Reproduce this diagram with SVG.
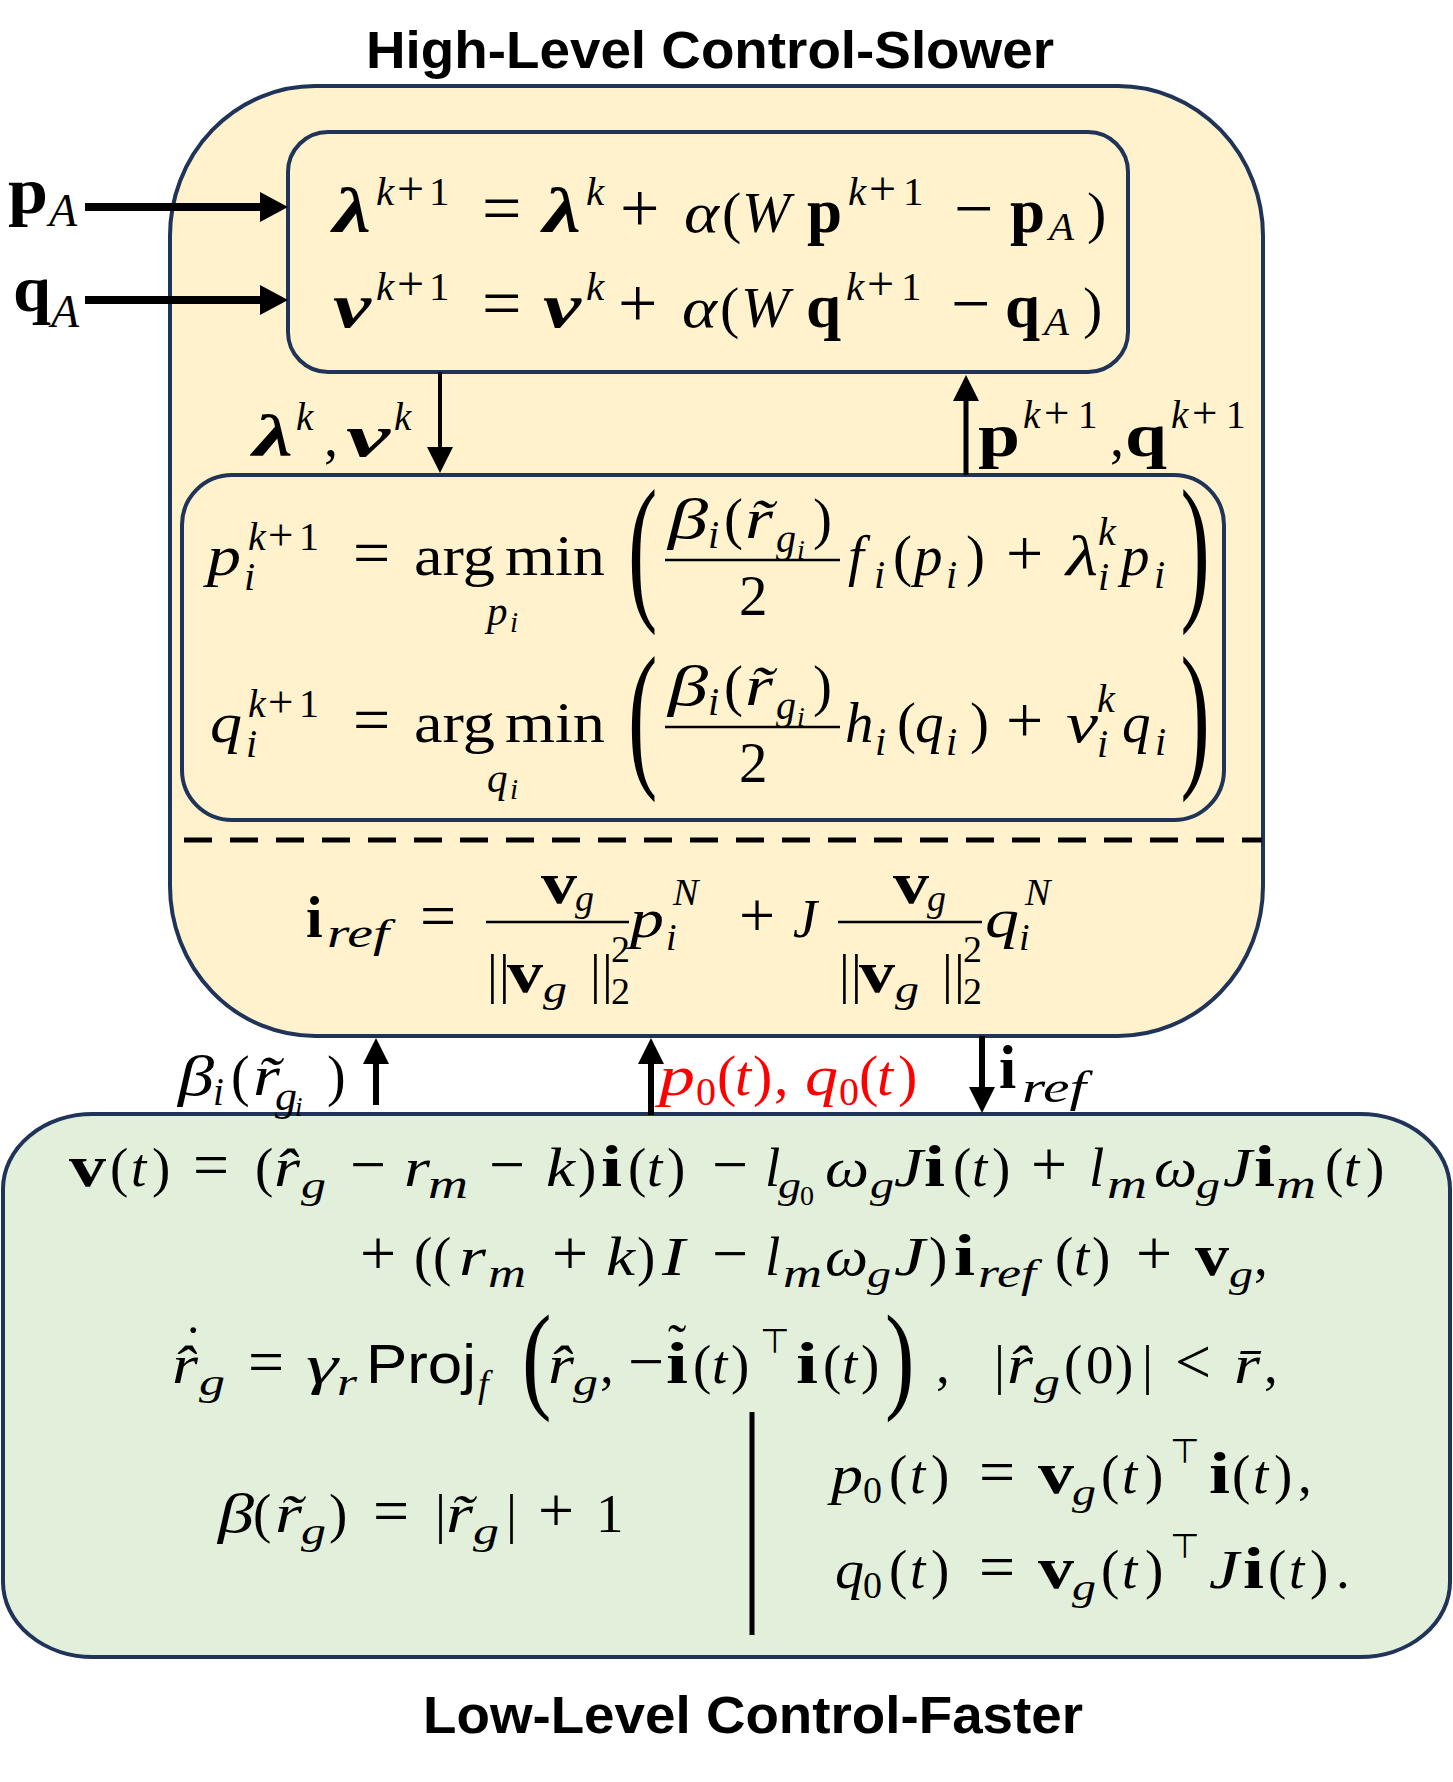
<svg xmlns="http://www.w3.org/2000/svg" width="1453" height="1782" viewBox="0 0 1453 1782">
<defs>
<style>
.m{font-family:"Liberation Serif","DejaVu Serif",serif;fill:#000}
.i{font-style:italic}
.b{font-weight:bold}
.bi{font-weight:bold;font-style:italic}
.sf{font-family:"Liberation Sans","DejaVu Sans",sans-serif}
.T{font-family:"DejaVu Sans",sans-serif;font-weight:normal;font-style:normal}
.title{font-family:"Liberation Sans",Arial,sans-serif;font-weight:bold;font-size:51px;fill:#000}
.box{stroke:#1F3458;stroke-width:4}
.yel{fill:#FFF2CC}
.grn{fill:#E2EFDA}
.bar{stroke:#000;stroke-width:2.5}
.red{fill:#FF0000}
</style>
<marker id="ah" markerUnits="userSpaceOnUse" markerWidth="26" markerHeight="26" viewBox="0 0 26 26" refX="6" refY="13" orient="auto"><path d="M0,0 L26,13 L0,26 z" fill="#000"/></marker>
<marker id="ahb" markerUnits="userSpaceOnUse" markerWidth="28" markerHeight="30" viewBox="0 0 28 30" refX="8" refY="15" orient="auto"><path d="M0,0 L28,15 L0,30 z" fill="#000"/></marker>
</defs>
<rect width="1453" height="1782" fill="#fff"/>

<g id="high-level">
<text class="title" x="710" y="68" text-anchor="middle" textLength="688" lengthAdjust="spacingAndGlyphs">High-Level Control-Slower</text>
<rect class="box yel" x="170" y="86" width="1093" height="950" rx="145" ry="150"/>
<line x1="184" y1="840" x2="1262" y2="840" stroke="#000" stroke-width="5" stroke-dasharray="28 18"/>
</g>

<g id="multiplier-update">
<rect class="box yel" x="288" y="132" width="840" height="240" rx="40"/>
<text class="m" font-size="58">
<tspan class="bi" x="333" y="232" font-size="63" textLength="38" lengthAdjust="spacingAndGlyphs">λ</tspan>
<tspan class="i" x="376" y="205" font-size="41">k</tspan><tspan x="397" y="205" font-size="48">+</tspan><tspan x="429" y="205" font-size="41">1</tspan>
<tspan x="482" y="232" font-size="70">=</tspan>
<tspan class="bi" x="543" y="232" font-size="63" textLength="38" lengthAdjust="spacingAndGlyphs">λ</tspan>
<tspan class="i" x="586" y="205" font-size="41">k</tspan>
<tspan x="620" y="232" font-size="70">+</tspan>
<tspan class="i" x="684" y="232" textLength="35" lengthAdjust="spacingAndGlyphs">α</tspan>
<tspan x="722" y="232">(</tspan>
<tspan class="i" x="742" y="232">W</tspan>
<tspan class="b" x="807" y="232" font-size="63">p</tspan>
<tspan class="i" x="848" y="205" font-size="41">k</tspan><tspan x="869" y="205" font-size="48">+</tspan><tspan x="903" y="205" font-size="41">1</tspan>
<tspan x="954" y="232" font-size="70">−</tspan>
<tspan class="b" x="1010" y="232" font-size="63">p</tspan>
<tspan class="i" x="1049" y="240" font-size="41">A</tspan>
<tspan x="1087" y="232">)</tspan>
</text>
<text class="m" font-size="58">
<tspan class="bi" x="333" y="327" font-size="63" textLength="38" lengthAdjust="spacingAndGlyphs">ν</tspan>
<tspan class="i" x="376" y="300" font-size="41">k</tspan><tspan x="397" y="300" font-size="48">+</tspan><tspan x="429" y="300" font-size="41">1</tspan>
<tspan x="482" y="327" font-size="70">=</tspan>
<tspan class="bi" x="543" y="327" font-size="63" textLength="38" lengthAdjust="spacingAndGlyphs">ν</tspan>
<tspan class="i" x="586" y="300" font-size="41">k</tspan>
<tspan x="618" y="327" font-size="70">+</tspan>
<tspan class="i" x="682" y="327" textLength="35" lengthAdjust="spacingAndGlyphs">α</tspan>
<tspan x="720" y="327">(</tspan>
<tspan class="i" x="741" y="327">W</tspan>
<tspan class="b" x="806" y="327" font-size="63">q</tspan>
<tspan class="i" x="846" y="300" font-size="41">k</tspan><tspan x="867" y="300" font-size="48">+</tspan><tspan x="901" y="300" font-size="41">1</tspan>
<tspan x="951" y="327" font-size="70">−</tspan>
<tspan class="b" x="1005" y="327" font-size="63">q</tspan>
<tspan class="i" x="1044" y="335" font-size="41">A</tspan>
<tspan x="1083" y="327">)</tspan>
</text>
</g>

<g id="local-optimization">
<rect class="box yel" x="182" y="475" width="1042" height="345" rx="50"/>
<text class="m" font-size="57">
<tspan class="i" x="207" y="575" textLength="34" lengthAdjust="spacingAndGlyphs">p</tspan>
<tspan class="i" x="248" y="550" font-size="40">k</tspan><tspan x="268" y="550" font-size="45">+</tspan><tspan x="299" y="550" font-size="40">1</tspan>
<tspan class="i" x="244" y="590" font-size="40">i</tspan>
<tspan x="353" y="575" font-size="66">=</tspan>
<tspan class="i" x="487" y="625" font-size="41">p</tspan><tspan class="i" x="510" y="632" font-size="29">i</tspan>
<tspan class="i" x="668" y="538" textLength="40" lengthAdjust="spacingAndGlyphs">β</tspan><tspan class="i" x="708" y="548" font-size="40">i</tspan>
<tspan x="724" y="538">(</tspan><tspan class="i" x="745" y="538" textLength="28" lengthAdjust="spacingAndGlyphs">r̃</tspan>
<tspan class="i" x="776" y="552" font-size="40">g</tspan><tspan class="i" x="797" y="559" font-size="28">i</tspan>
<tspan x="813" y="538">)</tspan>
<tspan x="739" y="615">2</tspan>
<tspan class="i" x="848" y="575">f</tspan><tspan class="i" x="874" y="588" font-size="40">i</tspan>
<tspan x="893" y="575">(</tspan><tspan class="i" x="914" y="575">p</tspan><tspan class="i" x="946" y="588" font-size="40">i</tspan><tspan x="966" y="575">)</tspan>
<tspan x="1006" y="575" font-size="66">+</tspan>
<tspan class="i" x="1066" y="575" textLength="32" lengthAdjust="spacingAndGlyphs">λ</tspan><tspan class="i" x="1098" y="545" font-size="40">k</tspan><tspan class="i" x="1098" y="590" font-size="40">i</tspan>
<tspan class="i" x="1121" y="575">p</tspan><tspan class="i" x="1154" y="588" font-size="40">i</tspan>
</text>
<text class="m" font-size="57" x="414" y="575" textLength="81" lengthAdjust="spacingAndGlyphs">arg</text>
<text class="m" font-size="57" x="505" y="575" textLength="100" lengthAdjust="spacingAndGlyphs">min</text>
<text class="m" font-size="160" transform="translate(628,601) scale(0.55,1)">(</text>
<text class="m" font-size="160" transform="translate(1180.5,601) scale(0.55,1)">)</text>
<line class="bar" x1="665" y1="560" x2="840" y2="560"/>

<text class="m" font-size="57">
<tspan class="i" x="210" y="742" textLength="32" lengthAdjust="spacingAndGlyphs">q</tspan>
<tspan class="i" x="248" y="717" font-size="40">k</tspan><tspan x="268" y="717" font-size="45">+</tspan><tspan x="299" y="717" font-size="40">1</tspan>
<tspan class="i" x="246" y="757" font-size="40">i</tspan>
<tspan x="353" y="742" font-size="66">=</tspan>
<tspan class="i" x="487" y="792" font-size="41">q</tspan><tspan class="i" x="510" y="799" font-size="29">i</tspan>
<tspan class="i" x="668" y="705" textLength="40" lengthAdjust="spacingAndGlyphs">β</tspan><tspan class="i" x="708" y="715" font-size="40">i</tspan>
<tspan x="724" y="705">(</tspan><tspan class="i" x="745" y="705" textLength="28" lengthAdjust="spacingAndGlyphs">r̃</tspan>
<tspan class="i" x="776" y="719" font-size="40">g</tspan><tspan class="i" x="797" y="726" font-size="28">i</tspan>
<tspan x="813" y="705">)</tspan>
<tspan x="739" y="782">2</tspan>
<tspan class="i" x="845" y="742">h</tspan><tspan class="i" x="875" y="755" font-size="40">i</tspan>
<tspan x="897" y="742">(</tspan><tspan class="i" x="915" y="742">q</tspan><tspan class="i" x="946" y="755" font-size="40">i</tspan><tspan x="970" y="742">)</tspan>
<tspan x="1006" y="742" font-size="66">+</tspan>
<tspan class="i" x="1066" y="742" textLength="32" lengthAdjust="spacingAndGlyphs">ν</tspan><tspan class="i" x="1097" y="712" font-size="40">k</tspan><tspan class="i" x="1097" y="757" font-size="40">i</tspan>
<tspan class="i" x="1122" y="742">q</tspan><tspan class="i" x="1155" y="755" font-size="40">i</tspan>
</text>
<text class="m" font-size="57" x="414" y="742" textLength="81" lengthAdjust="spacingAndGlyphs">arg</text>
<text class="m" font-size="57" x="505" y="742" textLength="100" lengthAdjust="spacingAndGlyphs">min</text>
<text class="m" font-size="160" transform="translate(628,768) scale(0.55,1)">(</text>
<text class="m" font-size="160" transform="translate(1180.5,768) scale(0.55,1)">)</text>
<line class="bar" x1="665" y1="727" x2="840" y2="727"/>
</g>

<g id="current-reference">
<text class="m" font-size="54">
<tspan class="b" x="306" y="937" font-size="60">i</tspan><tspan class="i" x="327" y="947" font-size="39" textLength="62" lengthAdjust="spacingAndGlyphs">ref</tspan>
<tspan x="420" y="937" font-size="64">=</tspan>
<tspan class="b" x="541" y="903" font-size="60" textLength="36" lengthAdjust="spacingAndGlyphs">v</tspan><tspan class="i" x="575" y="911" font-size="38">g</tspan>
<tspan x="487" y="992">|</tspan><tspan x="499" y="992">|</tspan>
<tspan class="b" x="507" y="992" font-size="60" textLength="36" lengthAdjust="spacingAndGlyphs">v</tspan><tspan class="i" x="543" y="1002" font-size="38" textLength="24" lengthAdjust="spacingAndGlyphs">g</tspan>
<tspan x="590" y="992">|</tspan><tspan x="602" y="992">|</tspan>
<tspan x="611" y="962" font-size="38">2</tspan><tspan x="611" y="1004" font-size="38">2</tspan>
<tspan class="i" x="630" y="937" textLength="34" lengthAdjust="spacingAndGlyphs">p</tspan><tspan class="i" x="673" y="905" font-size="38">N</tspan><tspan class="i" x="666" y="950" font-size="38">i</tspan>
<tspan x="739" y="937" font-size="64">+</tspan>
<tspan class="i" x="793" y="937">J</tspan>
<tspan class="b" x="893" y="903" font-size="60" textLength="36" lengthAdjust="spacingAndGlyphs">v</tspan><tspan class="i" x="927" y="911" font-size="38">g</tspan>
<tspan x="839" y="992">|</tspan><tspan x="851" y="992">|</tspan>
<tspan class="b" x="859" y="992" font-size="60" textLength="36" lengthAdjust="spacingAndGlyphs">v</tspan><tspan class="i" x="895" y="1002" font-size="38" textLength="24" lengthAdjust="spacingAndGlyphs">g</tspan>
<tspan x="942" y="992">|</tspan><tspan x="954" y="992">|</tspan>
<tspan x="963" y="962" font-size="38">2</tspan><tspan x="963" y="1004" font-size="38">2</tspan>
<tspan class="i" x="985" y="937" textLength="34" lengthAdjust="spacingAndGlyphs">q</tspan><tspan class="i" x="1025" y="905" font-size="38">N</tspan><tspan class="i" x="1019" y="950" font-size="38">i</tspan>
</text>
<line class="bar" x1="486" y1="922" x2="629" y2="922"/>
<line class="bar" x1="838" y1="922" x2="982" y2="922"/>
</g>

<g id="low-level">
<rect class="box grn" x="3" y="1114" width="1447" height="543" rx="90" ry="75"/>
<text class="m" font-size="55">
<tspan class="b" x="69" y="1186" font-size="60" textLength="37" lengthAdjust="spacingAndGlyphs">v</tspan><tspan x="110" y="1186">(</tspan><tspan class="i" x="131" y="1186">t</tspan><tspan x="152" y="1186">)</tspan>
<tspan x="193" y="1186" font-size="64">=</tspan>
<tspan x="255" y="1186">(</tspan><tspan class="i" x="274" y="1186" textLength="26" lengthAdjust="spacingAndGlyphs">r̂</tspan><tspan class="i" x="301" y="1198" font-size="38" textLength="25" lengthAdjust="spacingAndGlyphs">g</tspan>
<tspan x="350" y="1186" font-size="64">−</tspan>
<tspan class="i" x="404" y="1186" textLength="26" lengthAdjust="spacingAndGlyphs">r</tspan><tspan class="i" x="428" y="1198" font-size="40" textLength="40" lengthAdjust="spacingAndGlyphs">m</tspan>
<tspan x="489" y="1186" font-size="64">−</tspan>
<tspan class="i" x="546" y="1186" textLength="29" lengthAdjust="spacingAndGlyphs">k</tspan><tspan x="578" y="1186">)</tspan>
<tspan class="b" x="601" y="1186" font-size="60" textLength="21" lengthAdjust="spacingAndGlyphs">i</tspan><tspan x="628" y="1186">(</tspan><tspan class="i" x="647" y="1186">t</tspan><tspan x="667" y="1186">)</tspan>
<tspan x="712" y="1186" font-size="64">−</tspan>
<tspan class="i" x="765" y="1186">l</tspan><tspan class="i" x="778" y="1198" font-size="38" textLength="23" lengthAdjust="spacingAndGlyphs">g</tspan><tspan x="800" y="1205" font-size="28">0</tspan>
<tspan class="i" x="825" y="1186" textLength="44" lengthAdjust="spacingAndGlyphs">ω</tspan><tspan class="i" x="870" y="1198" font-size="38" textLength="24" lengthAdjust="spacingAndGlyphs">g</tspan>
<tspan class="i" x="894" y="1186" textLength="29" lengthAdjust="spacingAndGlyphs">J</tspan><tspan class="b" x="924" y="1186" font-size="60" textLength="21" lengthAdjust="spacingAndGlyphs">i</tspan><tspan x="953" y="1186">(</tspan><tspan class="i" x="972" y="1186">t</tspan><tspan x="992" y="1186">)</tspan>
<tspan x="1031" y="1186" font-size="64">+</tspan>
<tspan class="i" x="1089" y="1186">l</tspan><tspan class="i" x="1107" y="1198" font-size="40" textLength="40" lengthAdjust="spacingAndGlyphs">m</tspan>
<tspan class="i" x="1154" y="1186" textLength="43" lengthAdjust="spacingAndGlyphs">ω</tspan><tspan class="i" x="1196" y="1198" font-size="38" textLength="24" lengthAdjust="spacingAndGlyphs">g</tspan>
<tspan class="i" x="1223" y="1186" textLength="29" lengthAdjust="spacingAndGlyphs">J</tspan><tspan class="b" x="1254" y="1186" font-size="60" textLength="21" lengthAdjust="spacingAndGlyphs">i</tspan><tspan class="i" x="1276" y="1198" font-size="40" textLength="40" lengthAdjust="spacingAndGlyphs">m</tspan>
<tspan x="1325" y="1186">(</tspan><tspan class="i" x="1344" y="1186">t</tspan><tspan x="1366" y="1186">)</tspan>
</text>
<text class="m" font-size="55">
<tspan x="360" y="1275" font-size="64">+</tspan>
<tspan x="414" y="1275">(</tspan><tspan x="433" y="1275">(</tspan>
<tspan class="i" x="459" y="1275" textLength="27" lengthAdjust="spacingAndGlyphs">r</tspan><tspan class="i" x="488" y="1287" font-size="40" textLength="38" lengthAdjust="spacingAndGlyphs">m</tspan>
<tspan x="552" y="1275" font-size="64">+</tspan>
<tspan class="i" x="606" y="1275" textLength="29" lengthAdjust="spacingAndGlyphs">k</tspan><tspan x="637" y="1275">)</tspan>
<tspan class="i" x="662" y="1275" textLength="23" lengthAdjust="spacingAndGlyphs">I</tspan>
<tspan x="712" y="1275" font-size="64">−</tspan>
<tspan class="i" x="765" y="1275">l</tspan><tspan class="i" x="783" y="1287" font-size="40" textLength="39" lengthAdjust="spacingAndGlyphs">m</tspan>
<tspan class="i" x="825" y="1275" textLength="43" lengthAdjust="spacingAndGlyphs">ω</tspan><tspan class="i" x="867" y="1287" font-size="38" textLength="24" lengthAdjust="spacingAndGlyphs">g</tspan>
<tspan class="i" x="894" y="1275" textLength="31" lengthAdjust="spacingAndGlyphs">J</tspan><tspan x="929" y="1275">)</tspan>
<tspan class="b" x="954" y="1275" font-size="60" textLength="21" lengthAdjust="spacingAndGlyphs">i</tspan><tspan class="i" x="978" y="1287" font-size="39" textLength="58" lengthAdjust="spacingAndGlyphs">ref</tspan>
<tspan x="1055" y="1275">(</tspan><tspan class="i" x="1074" y="1275">t</tspan><tspan x="1092" y="1275">)</tspan>
<tspan x="1136" y="1275" font-size="64">+</tspan>
<tspan class="b" x="1195" y="1275" font-size="60" textLength="34" lengthAdjust="spacingAndGlyphs">v</tspan><tspan class="i" x="1229" y="1287" font-size="38" textLength="24" lengthAdjust="spacingAndGlyphs">g</tspan><tspan x="1254" y="1275">,</tspan>
</text>
<text class="m" font-size="55">
<tspan class="i" x="172" y="1383" textLength="26" lengthAdjust="spacingAndGlyphs">r̂</tspan><tspan x="184" y="1364">˙</tspan><tspan class="i" x="199" y="1395" font-size="38" textLength="26" lengthAdjust="spacingAndGlyphs">g</tspan>
<tspan x="248" y="1383" font-size="64">=</tspan>
<tspan class="i" x="306" y="1383" textLength="32" lengthAdjust="spacingAndGlyphs">γ</tspan><tspan class="i" x="337" y="1395" font-size="38" textLength="20" lengthAdjust="spacingAndGlyphs">r</tspan>
<tspan class="i" x="478" y="1397" font-size="38">f</tspan>
<tspan class="i" x="548" y="1383" textLength="26" lengthAdjust="spacingAndGlyphs">r̂</tspan><tspan class="i" x="573" y="1395" font-size="38" textLength="25" lengthAdjust="spacingAndGlyphs">g</tspan><tspan x="600" y="1383">,</tspan>
<tspan x="628" y="1383" font-size="64">−</tspan>
<tspan class="b" x="666" y="1383" font-size="60" textLength="22" lengthAdjust="spacingAndGlyphs">i</tspan><tspan x="668" y="1362">˜</tspan>
<tspan x="693" y="1383">(</tspan><tspan class="i" x="712" y="1383">t</tspan><tspan x="731" y="1383">)</tspan>
<tspan class="T" x="760" y="1353" font-size="34">⊤</tspan>
<tspan class="b" x="796" y="1383" font-size="60" textLength="22" lengthAdjust="spacingAndGlyphs">i</tspan><tspan x="823" y="1383">(</tspan><tspan class="i" x="842" y="1383">t</tspan><tspan x="861" y="1383">)</tspan>
<tspan x="936" y="1383">,</tspan>
<tspan x="994" y="1383">|</tspan>
<tspan class="i" x="1007" y="1383" textLength="26" lengthAdjust="spacingAndGlyphs">r̂</tspan><tspan class="i" x="1034" y="1395" font-size="38" textLength="26" lengthAdjust="spacingAndGlyphs">g</tspan>
<tspan x="1064" y="1383">(</tspan><tspan x="1086" y="1383">0</tspan><tspan x="1115" y="1383">)</tspan>
<tspan x="1142" y="1383">|</tspan>
<tspan x="1175" y="1383" font-size="64">&lt;</tspan>
<tspan class="i" x="1234" y="1383" textLength="26" lengthAdjust="spacingAndGlyphs">r̄</tspan><tspan x="1264" y="1383">,</tspan>
</text>
<text class="m sf" font-size="56" x="366" y="1383" textLength="110" lengthAdjust="spacingAndGlyphs">Proj</text>
<text class="m" font-size="118" transform="translate(522,1397) scale(0.75,1)">(</text>
<text class="m" font-size="118" transform="translate(885,1397) scale(0.75,1)">)</text>

<line x1="752" y1="1412" x2="752" y2="1635" stroke="#000" stroke-width="5"/>

<text class="m" font-size="55">
<tspan class="i" x="218" y="1532" textLength="36" lengthAdjust="spacingAndGlyphs">β</tspan><tspan x="253" y="1532">(</tspan><tspan class="i" x="275" y="1532" textLength="27" lengthAdjust="spacingAndGlyphs">r̃</tspan><tspan class="i" x="301" y="1544" font-size="38" textLength="25" lengthAdjust="spacingAndGlyphs">g</tspan><tspan x="329" y="1532">)</tspan>
<tspan x="373" y="1532" font-size="64">=</tspan>
<tspan x="435" y="1532">|</tspan><tspan class="i" x="446" y="1532" textLength="27" lengthAdjust="spacingAndGlyphs">r̃</tspan><tspan class="i" x="473" y="1544" font-size="38" textLength="26" lengthAdjust="spacingAndGlyphs">g</tspan><tspan x="506" y="1532">|</tspan>
<tspan x="538" y="1532" font-size="64">+</tspan>
<tspan x="596" y="1532">1</tspan>
</text>
<text class="m" font-size="55">
<tspan class="i" x="831" y="1493" textLength="32" lengthAdjust="spacingAndGlyphs">p</tspan><tspan x="863" y="1503" font-size="38">0</tspan>
<tspan x="889" y="1493">(</tspan><tspan class="i" x="910" y="1493">t</tspan><tspan x="931" y="1493">)</tspan>
<tspan x="979" y="1493" font-size="64">=</tspan>
<tspan class="b" x="1038" y="1493" font-size="60" textLength="36" lengthAdjust="spacingAndGlyphs">v</tspan><tspan class="i" x="1072" y="1505" font-size="38" textLength="24" lengthAdjust="spacingAndGlyphs">g</tspan>
<tspan x="1101" y="1493">(</tspan><tspan class="i" x="1122" y="1493">t</tspan><tspan x="1145" y="1493">)</tspan>
<tspan class="T" x="1170" y="1463" font-size="34">⊤</tspan>
<tspan class="b" x="1209" y="1493" font-size="60" textLength="21" lengthAdjust="spacingAndGlyphs">i</tspan><tspan x="1232" y="1493">(</tspan><tspan class="i" x="1253" y="1493">t</tspan><tspan x="1274" y="1493">)</tspan><tspan x="1298" y="1493">,</tspan>
</text>
<text class="m" font-size="55">
<tspan class="i" x="835" y="1588" textLength="29" lengthAdjust="spacingAndGlyphs">q</tspan><tspan x="863" y="1598" font-size="38">0</tspan>
<tspan x="889" y="1588">(</tspan><tspan class="i" x="910" y="1588">t</tspan><tspan x="931" y="1588">)</tspan>
<tspan x="979" y="1588" font-size="64">=</tspan>
<tspan class="b" x="1038" y="1588" font-size="60" textLength="36" lengthAdjust="spacingAndGlyphs">v</tspan><tspan class="i" x="1072" y="1600" font-size="38" textLength="24" lengthAdjust="spacingAndGlyphs">g</tspan>
<tspan x="1101" y="1588">(</tspan><tspan class="i" x="1122" y="1588">t</tspan><tspan x="1145" y="1588">)</tspan>
<tspan class="T" x="1170" y="1558" font-size="34">⊤</tspan>
<tspan class="i" x="1209" y="1588" textLength="30" lengthAdjust="spacingAndGlyphs">J</tspan><tspan class="b" x="1243" y="1588" font-size="60" textLength="21" lengthAdjust="spacingAndGlyphs">i</tspan><tspan x="1268" y="1588">(</tspan><tspan class="i" x="1289" y="1588">t</tspan><tspan x="1310" y="1588">)</tspan><tspan x="1336" y="1588">.</tspan>
</text>
<text class="title" x="753" y="1733" text-anchor="middle" textLength="660" lengthAdjust="spacingAndGlyphs">Low-Level Control-Faster</text>
</g>

<g id="connectors" stroke="#000" fill="none">
<line x1="85" y1="207" x2="268" y2="207" stroke-width="8" marker-end="url(#ahb)"/>
<line x1="85" y1="300" x2="268" y2="300" stroke-width="8" marker-end="url(#ahb)"/>
<line x1="440" y1="372" x2="440" y2="453" stroke-width="4" marker-end="url(#ah)"/>
<line x1="966" y1="475" x2="966" y2="395" stroke-width="5" marker-end="url(#ah)"/>
<line x1="376" y1="1105" x2="376" y2="1058" stroke-width="6" marker-end="url(#ah)"/>
<line x1="651" y1="1115" x2="651" y2="1058" stroke-width="6" marker-end="url(#ah)"/>
<line x1="982" y1="1036" x2="982" y2="1093" stroke-width="6" marker-end="url(#ah)"/>
</g>

<g id="connector-labels">
<text class="m" font-size="66"><tspan class="b" x="8" y="213" textLength="40" lengthAdjust="spacingAndGlyphs">p</tspan><tspan class="i" x="49" y="226" font-size="46">A</tspan></text>
<text class="m" font-size="66"><tspan class="b" x="13" y="311" textLength="38" lengthAdjust="spacingAndGlyphs">q</tspan><tspan class="i" x="51" y="327" font-size="46">A</tspan></text>
<text class="m" font-size="56">
<tspan class="bi" x="253" y="456" font-size="59" textLength="40" lengthAdjust="spacingAndGlyphs">λ</tspan><tspan class="i" x="296" y="430" font-size="39">k</tspan><tspan x="324" y="456">,</tspan>
<tspan class="bi" x="346" y="456" font-size="59" textLength="44" lengthAdjust="spacingAndGlyphs">ν</tspan><tspan class="i" x="394" y="430" font-size="39">k</tspan>
</text>
<text class="m" font-size="56">
<tspan class="b" x="978" y="456" font-size="62" textLength="42" lengthAdjust="spacingAndGlyphs">p</tspan><tspan class="i" x="1023" y="428" font-size="39">k</tspan><tspan x="1044" y="428" font-size="45">+</tspan><tspan x="1078" y="428" font-size="39">1</tspan>
<tspan x="1110" y="456">,</tspan>
<tspan class="b" x="1125" y="456" font-size="62" textLength="42" lengthAdjust="spacingAndGlyphs">q</tspan><tspan class="i" x="1171" y="428" font-size="39">k</tspan><tspan x="1192" y="428" font-size="45">+</tspan><tspan x="1226" y="428" font-size="39">1</tspan>
</text>
<text class="m" font-size="56">
<tspan class="i" x="178" y="1095" textLength="36" lengthAdjust="spacingAndGlyphs">β</tspan><tspan class="i" x="213" y="1105" font-size="39">i</tspan>
<tspan x="231" y="1095">(</tspan><tspan class="i" x="253" y="1095" textLength="27" lengthAdjust="spacingAndGlyphs">r̃</tspan>
<tspan class="i" x="275" y="1110" font-size="39" textLength="22" lengthAdjust="spacingAndGlyphs">g</tspan><tspan class="i" x="295" y="1116" font-size="27">i</tspan>
<tspan x="327" y="1095">)</tspan>
</text>
<text class="m red" font-size="58">
<tspan class="i" x="659" y="1095" textLength="36" lengthAdjust="spacingAndGlyphs">p</tspan><tspan x="696" y="1105" font-size="40">0</tspan>
<tspan x="717" y="1095">(</tspan><tspan class="i" x="735" y="1095">t</tspan><tspan x="753" y="1095">)</tspan><tspan x="774" y="1095">,</tspan>
<tspan class="i" x="805" y="1095" textLength="33" lengthAdjust="spacingAndGlyphs">q</tspan><tspan x="839" y="1105" font-size="40">0</tspan>
<tspan x="859" y="1095">(</tspan><tspan class="i" x="877" y="1095">t</tspan><tspan x="898" y="1095">)</tspan>
</text>
<text class="m"><tspan class="b" x="999" y="1088" font-size="62">i</tspan><tspan class="i" x="1022" y="1102" font-size="45" textLength="64" lengthAdjust="spacingAndGlyphs">ref</tspan></text>
</g>
</svg>
